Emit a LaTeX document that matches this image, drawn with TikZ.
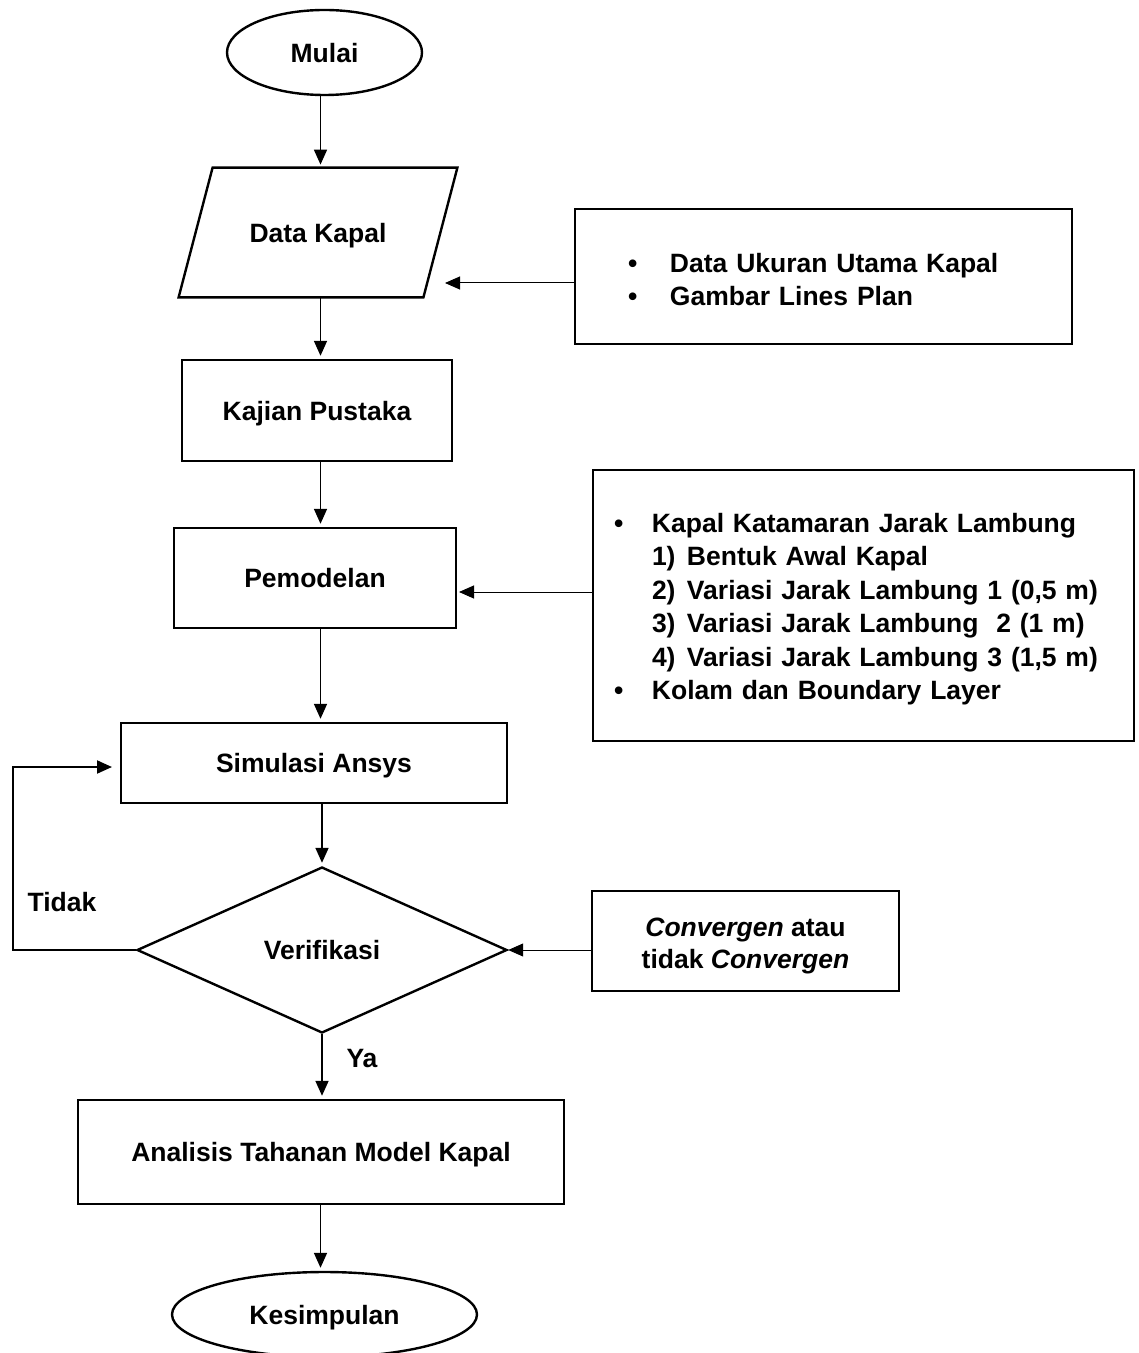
\documentclass[tikz,border=0pt]{standalone}
\usepackage{fontspec}
\setmainfont{Liberation Sans}
\usetikzlibrary{arrows.meta,shapes.geometric,calc}
\newcommand\myupstrut[1]{\rule{0pt}{#1}}
\begin{document}
\begin{tikzpicture}[x=0.5pt,y=-0.5pt,
  every node/.style={font=\fontsize{13.25pt}{16.75pt}\selectfont\bfseries, inner sep=0pt},
  single/.style={text depth=0pt},
  box/.style={draw, line width=1.2pt, rectangle},
  oval/.style={draw, line width=1.2pt, ellipse},
  arr/.style={line width=0.85pt, shorten >=1.5pt, -{Triangle[length=7.5pt,width=6.5pt]}},
  thinarr/.style={line width=0.5pt, -{Triangle[length=7.5pt,width=6.5pt]}},
]
\useasboundingbox (0,0) rectangle (1139,1353);
\coordinate (axis) at (320.5,0);

% main column
\node[oval, single, minimum width=97.5pt, minimum height=42.5pt] (mulai) at (324.5,52.5) {Mulai};
\node[single, minimum width=139pt, minimum height=64.5pt] (datakapal) at (318,232.5) {Data Kapal};
\draw[line width=1.2pt] (datakapal.south west) -- ([xshift=-17pt]datakapal.south east)
  -- (datakapal.north east) -- ([xshift=17pt]datakapal.north west) -- cycle;
\node[box, single, minimum width=135pt, minimum height=50.5pt] (kajian) at (317,410.5) {Kajian Pustaka};
\node[box, single, minimum width=141pt, minimum height=50pt] (pemodelan) at (315,578) {Pemodelan};
\node[box, single, minimum width=193pt, minimum height=40pt] (simulasi) at (314,763) {Simulasi Ansys};
\node[draw, diamond, single, line width=1.2pt, minimum width=185pt, minimum height=83pt] (verif) at (322,950) {Verifikasi};
\node[box, single, minimum width=243pt, minimum height=52pt] (analisis) at (321,1152) {Analisis Tahanan Model Kapal};
\node[oval, single, minimum width=152.5pt, minimum height=42.5pt] (kesimpulan) at (324.5,1314.5) {Kesimpulan};

% side boxes
\node[box, align=left, text width=195.5pt, inner xsep=26.5pt, minimum height=67.5pt] (box1) at (823.5,276.5)
  {\myupstrut{12.7pt}\makebox[21pt][l]{\textbullet}Data Ukuran Utama Kapal\\
   \makebox[21pt][l]{\textbullet}Gambar Lines Plan};
\node[box, align=left, text width=249.5pt, inner xsep=10.5pt, minimum height=135.5pt] (box2) at (863.5,605.5)
  {\myupstrut{13.2pt}\makebox[19pt][l]{\textbullet}Kapal Katamaran Jarak Lambung\\
   \hspace*{19pt}\makebox[17.5pt][l]{1)}Bentuk Awal Kapal\\
   \hspace*{19pt}\makebox[17.5pt][l]{2)}Variasi Jarak Lambung 1 (0,5 m)\\
   \hspace*{19pt}\makebox[17.5pt][l]{3)}Variasi Jarak Lambung~~2 (1 m)\\
   \hspace*{19pt}\makebox[17.5pt][l]{4)}Variasi Jarak Lambung 3 (1,5 m)\\
   \makebox[19pt][l]{\textbullet}Kolam dan Boundary Layer};
\node[box, align=center, minimum width=153.5pt, minimum height=50pt,
  font=\fontsize{13.25pt}{16pt}\selectfont\bfseries] (conv) at (745.5,941)
  {\myupstrut{14.5pt}\textit{Convergen} atau\\tidak \textit{Convergen}};

% labels
\node[single] (tidak) at (62,902) {Tidak};
\node[single] (ya) at (362,1058) {Ya};

% coordinates for free ends
\coordinate (dk-in) at (445,283);
\coordinate (pm-in) at (459,592);
\coordinate (loopL) at (13,0);
\coordinate (sim-in) at (112,767);

% connectors
\draw[arr] (mulai.south -| axis) -- (datakapal.north -| axis);
\draw[arr] (datakapal.south -| axis) -- (kajian.north -| axis);
\draw[arr] (kajian.south -| axis) -- (pemodelan.north -| axis);
\draw[arr] (pemodelan.south -| axis) -- (simulasi.north -| axis);
\draw[arr] (simulasi.south -| verif.north) -- (verif.north);
\draw[arr] (verif.south) -- (analisis.north -| verif.south);
\draw[arr] (analisis.south -| axis) -- (kesimpulan.north -| axis);

\draw[thinarr] (box1.west |- dk-in) -- (dk-in);
\draw[thinarr] (box2.west |- pm-in) -- (pm-in);
\draw[thinarr] (conv.west |- verif.east) -- (verif.east);
\draw[arr, line width=1pt, shorten >=0pt] (verif.west) -- (verif.west -| loopL) |- (sim-in);
\end{tikzpicture}
\end{document}
